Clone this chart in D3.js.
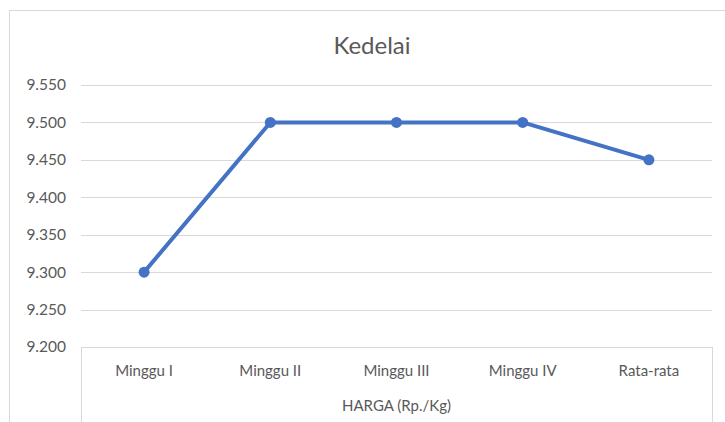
<!DOCTYPE html>
<html>
<head>
<meta charset="utf-8">
<script src="https://cdn.jsdelivr.net/npm/d3@7"></script>
<style>
  body { margin: 0; background: #fff; }
  svg { display: block; font-family: Lato, "Open Sans", sans-serif; }
</style>
</head>
<body>
<svg id="chart" width="725" height="422"></svg>
<script>
// data
var categories = ["Minggu I", "Minggu II", "Minggu III", "Minggu IV", "Rata-rata"]
var prices = [9300, 9500, 9500, 9500, 9450]
var yTicks = [9200, 9250, 9300, 9350, 9400, 9450, 9500, 9550]
var groupLabel = "HARGA (Rp./Kg)"
var title = "Kedelai"

var svg = d3.select("#chart")

var plotLeft = 81, plotRight = 712, plotTop = 85, plotBottom = 347

// chart border
svg.append("rect")
    .attr("x", 9.5)
    .attr("y", 10.5)
    .attr("width", 740)
    .attr("height", 440)
    .style("fill", "none")
    .style("stroke", "#d9d9d9")
    .style("stroke-width", 1)

var x = d3.scaleBand()
    .domain(categories)
    .range([plotLeft, plotRight])

var y = d3.scaleLinear()
    .domain([9200, 9550])
    .range([plotBottom, plotTop])

// gridlines
svg.append("g")
    .selectAll("line")
    .data(yTicks)
    .enter().append("line")
    .attr("x1", plotLeft)
    .attr("x2", plotRight)
    .attr("y1", function(d) { return Math.round(y(d)) + 0.5 })
    .attr("y2", function(d) { return Math.round(y(d)) + 0.5 })
    .style("stroke", "#d9d9d9")
    .style("stroke-width", 1)

// y labels
svg.append("g")
    .selectAll("text")
    .data(yTicks)
    .enter().append("text")
    .attr("x", 66)
    .attr("y", function(d) { return y(d) })
    .attr("dy", ".35em")
    .attr("text-anchor", "end")
    .style("font-size", "15.5px")
    .style("fill", "#595959")
    .text(function(d) { return d3.format(",")(d).replace(",", ".") })

// category axis frame
var frame = svg.append("g").style("stroke", "#d9d9d9").style("stroke-width", 1)
frame.append("line")
    .attr("x1", plotLeft + 0.5).attr("x2", plotLeft + 0.5)
    .attr("y1", plotBottom).attr("y2", 422)
frame.append("line")
    .attr("x1", plotRight + 0.5).attr("x2", plotRight + 0.5)
    .attr("y1", plotBottom).attr("y2", 422)

svg.append("g")
    .selectAll("text")
    .data(categories)
    .enter().append("text")
    .attr("x", function(d) { return x(d) + x.bandwidth() / 2 })
    .attr("y", 371)
    .attr("dy", ".35em")
    .attr("text-anchor", "middle")
    .style("font-size", "15px")
    .style("fill", "#595959")
    .text(function(d) { return d })

svg.append("text")
    .attr("x", (plotLeft + plotRight) / 2)
    .attr("y", 406)
    .attr("dy", ".35em")
    .attr("text-anchor", "middle")
    .style("font-size", "15px")
    .style("fill", "#595959")
    .text(groupLabel)

// title
svg.append("text")
    .attr("x", 372)
    .attr("y", 46)
    .attr("dy", ".35em")
    .attr("text-anchor", "middle")
    .style("font-size", "24px")
    .style("fill", "#595959")
    .text(title)

// line
var line = d3.line()
    .x(function(d, i) { return x(categories[i]) + x.bandwidth() / 2 })
    .y(function(d) { return y(d) })

svg.append("path")
    .datum(prices)
    .attr("d", line)
    .style("fill", "none")
    .style("stroke", "#4472c4")
    .style("stroke-width", 4)
    .style("stroke-linejoin", "round")

svg.append("g")
    .selectAll("circle")
    .data(prices)
    .enter().append("circle")
    .attr("cx", function(d, i) { return x(categories[i]) + x.bandwidth() / 2 })
    .attr("cy", function(d) { return y(d) })
    .attr("r", 5.5)
    .style("fill", "#4472c4")
</script>
</body>
</html>
